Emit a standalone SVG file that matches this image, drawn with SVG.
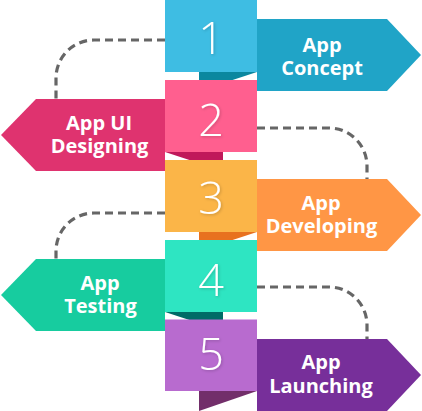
<svg xmlns="http://www.w3.org/2000/svg" width="422" height="411" viewBox="0 0 422 411">
<defs>
<style>
.num{font-family:"Open Sans","Liberation Sans",sans-serif;font-weight:300;font-size:45px;fill:#fff;text-anchor:middle}
.lbl{font-family:"Open Sans","Liberation Sans",sans-serif;font-weight:700;font-size:20px;fill:#fff;text-anchor:middle}
.dash{fill:none;stroke:#666;stroke-width:3.2;stroke-dasharray:8 5}
</style>
<filter id="sh" x="-30%" y="-30%" width="160%" height="160%">
<feDropShadow dx="1" dy="1" stdDeviation="1.5" flood-color="#000" flood-opacity="0.2"/>
</filter>
</defs>
<rect width="422" height="411" fill="#fff"/>
<g id="connectors">
<path class="dash" d="M165,40 H94 A38,38 0 0 0 56,78 V100"/>
<path class="dash" d="M257,128 H329 A38,38 0 0 1 367,166 V180"/>
<path class="dash" d="M165,213 H94 A38,38 0 0 0 56,251 V260"/>
<path class="dash" d="M257,287 H329 A38,38 0 0 1 367,325 V340"/>
</g>
<g id="step1">
<path d="M257,19 H387 L421,55 L387,91 H257 Z" fill="#20a4c7"/>
<path d="M199,72 H257 L199,91 Z" fill="#0b879f"/>
<rect x="165" y="0" width="92" height="72" fill="#3ebde3"/>
<text class="num" x="211" y="54" filter="url(#sh)">1</text>
<text class="lbl"><tspan x="322" y="52">App</tspan><tspan x="322" y="75">Concept</tspan></text>
</g>
<g id="step2">
<path d="M165,99 H36 L1,135 L36,171 H165 Z" fill="#df336f"/>
<path d="M165,152 H223 V171 Z" fill="#c0185a"/>
<rect x="165" y="80" width="92" height="72" fill="#ff5f8f"/>
<text class="num" x="211" y="135.5" filter="url(#sh)">2</text>
<text class="lbl"><tspan x="99" y="130">App UI</tspan><tspan x="99.5" y="153">Designing</tspan></text>
</g>
<g id="step3">
<path d="M257,179 H387 L421,215 L387,251 H257 Z" fill="#ff9645"/>
<path d="M199,232 H257 L199,251 Z" fill="#e8711f"/>
<rect x="165" y="160" width="92" height="72" fill="#fbb548"/>
<text class="num" x="211" y="214" filter="url(#sh)">3</text>
<text class="lbl"><tspan x="321" y="210">App</tspan><tspan x="321.5" y="233">Developing</tspan></text>
</g>
<g id="step4">
<path d="M165,259 H36 L1,295 L36,331 H165 Z" fill="#17cc9f"/>
<path d="M165,312 H223 V331 Z" fill="#006b66"/>
<rect x="165" y="240" width="92" height="72" fill="#2ee5c2"/>
<text class="num" x="211" y="295.5" filter="url(#sh)">4</text>
<text class="lbl"><tspan x="100" y="290">App</tspan><tspan x="100.5" y="313">Testing</tspan></text>
</g>
<g id="step5">
<path d="M257,339 H387 L421,375 L387,411 H257 Z" fill="#772f9a"/>
<path d="M199,391 H257 L199,411 Z" fill="#722e6a"/>
<rect x="165" y="319.5" width="92" height="71.5" fill="#b86bcf"/>
<text class="num" x="211" y="370" filter="url(#sh)">5</text>
<text class="lbl"><tspan x="321" y="369">App</tspan><tspan x="321" y="393">Launching</tspan></text>
</g>
</svg>
